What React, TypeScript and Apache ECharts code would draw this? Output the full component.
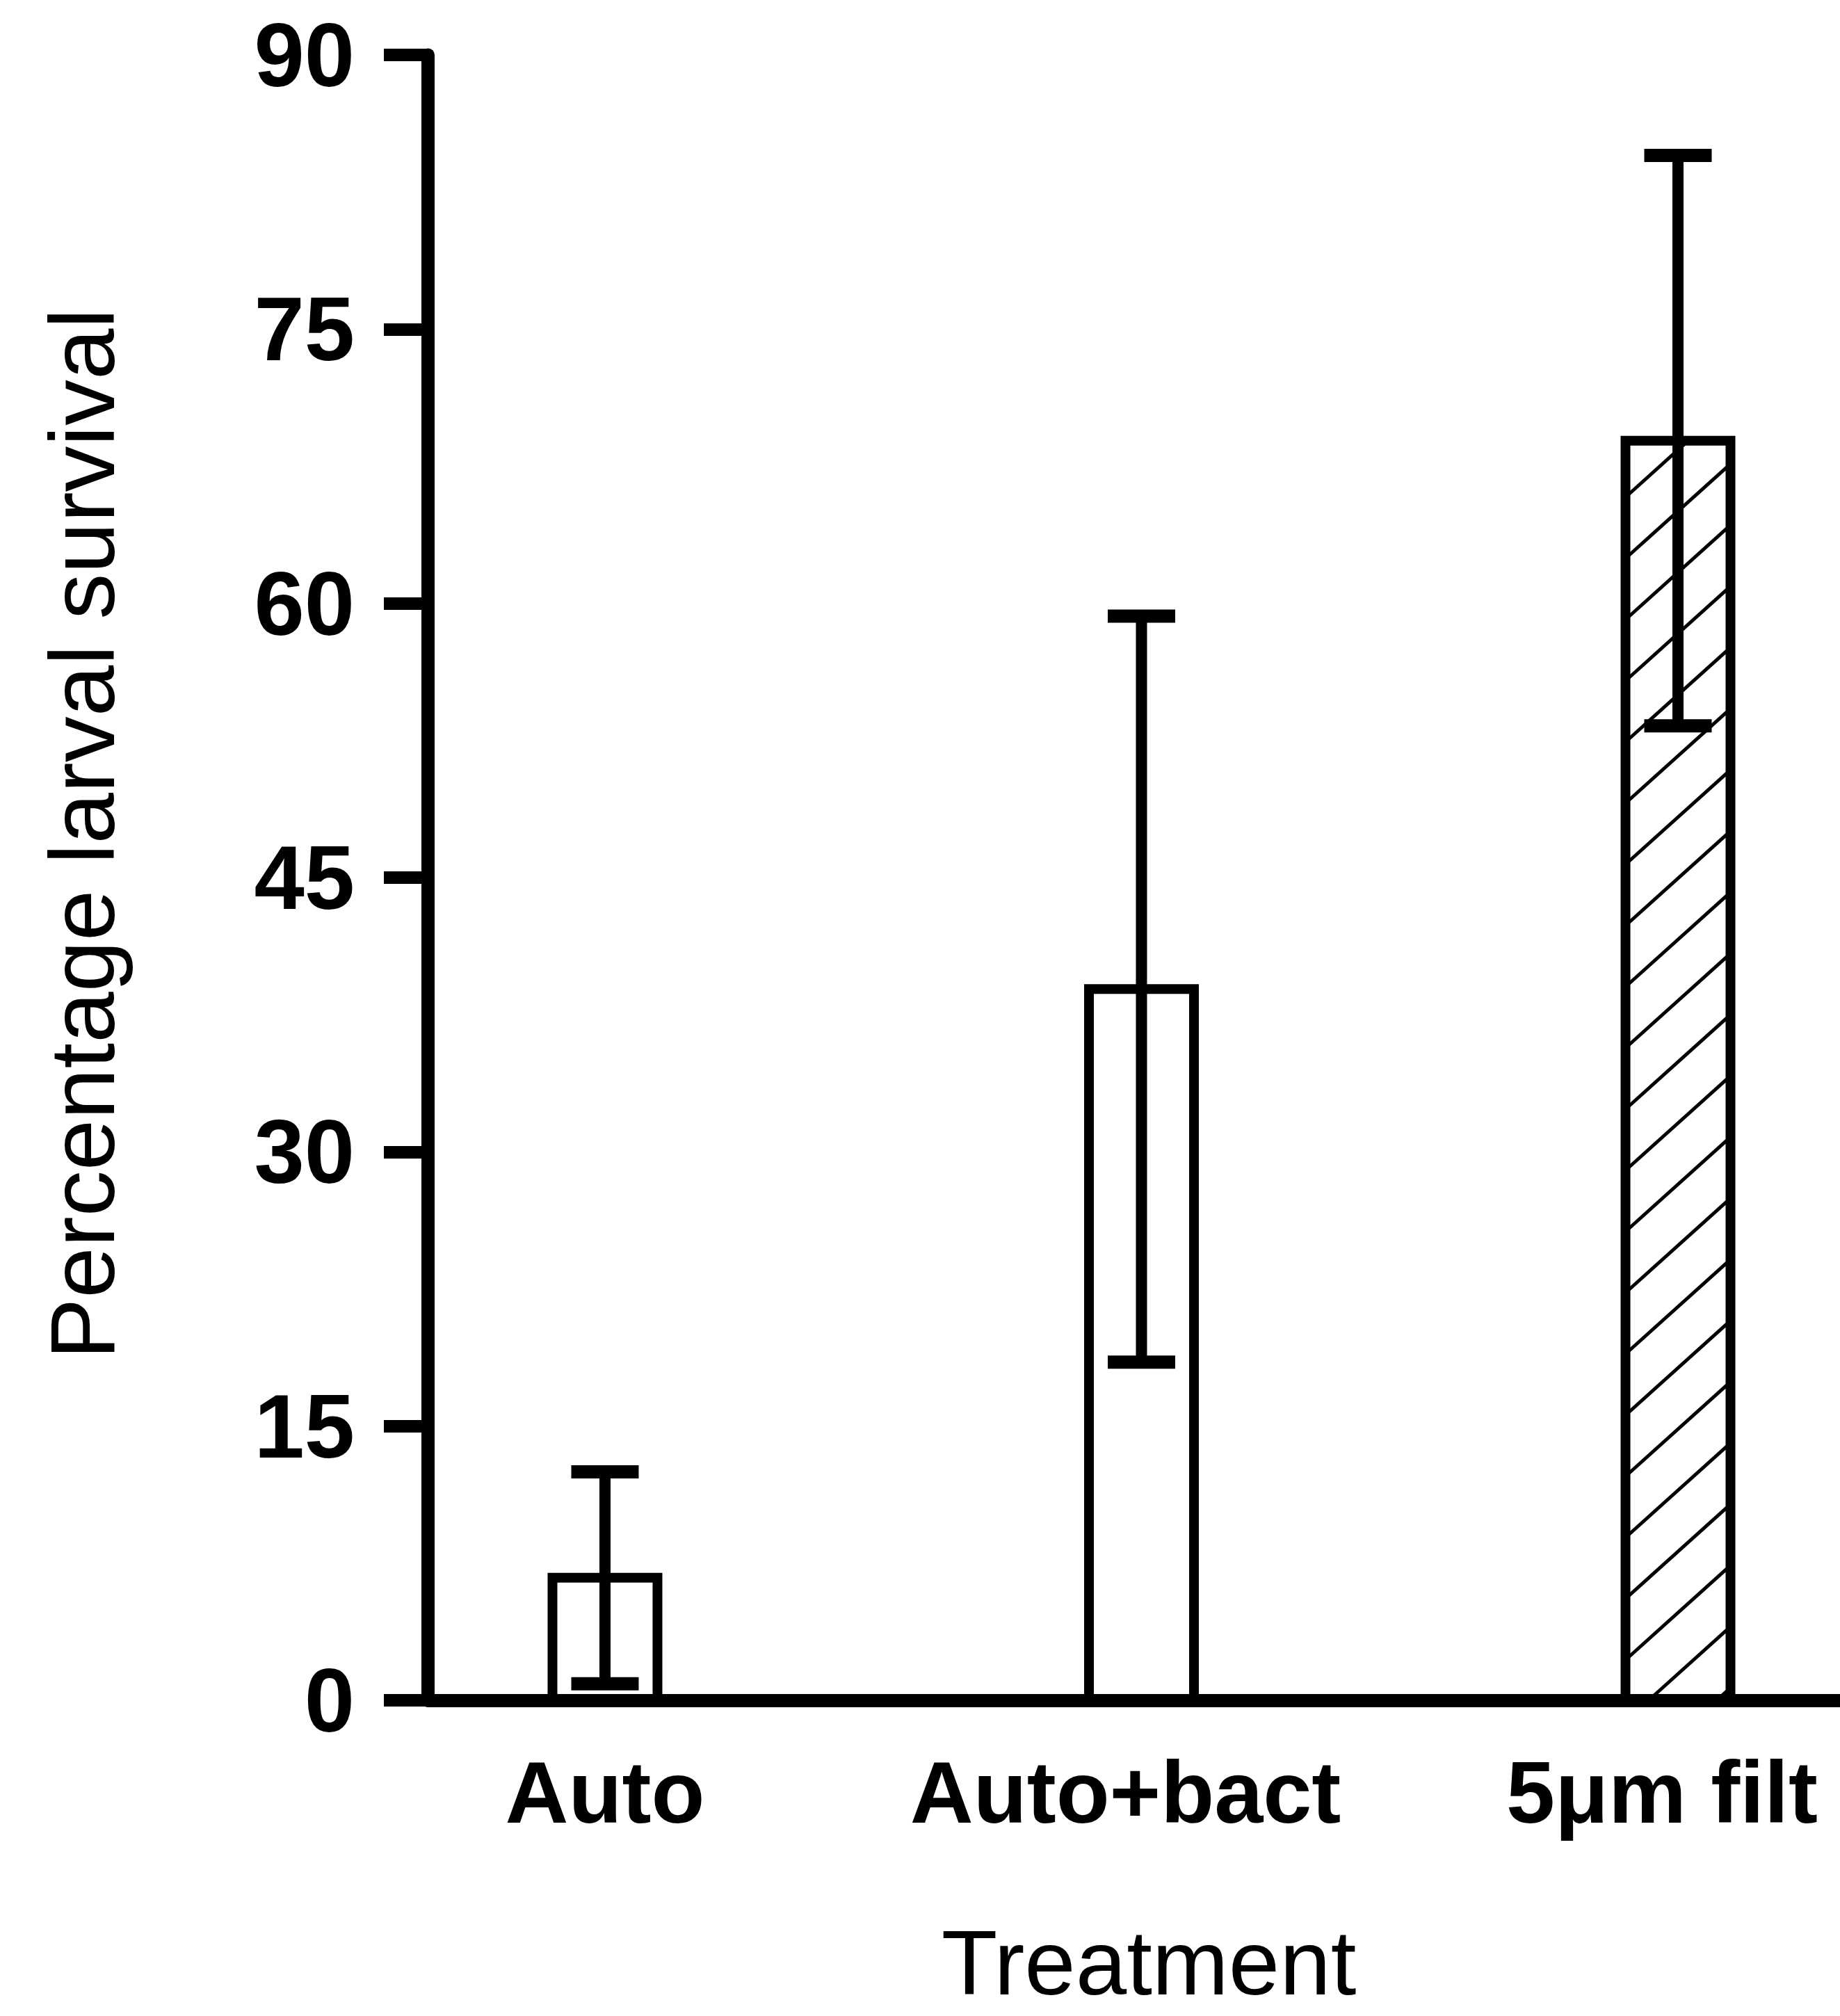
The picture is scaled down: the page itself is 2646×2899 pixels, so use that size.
import React, { useEffect, useRef } from "react";
import * as echarts from "echarts";

// ---- data ----
const CATEGORIES = ["Auto", "Auto+bact", "5μm filt"];
const POSITIONS = [1, 2, 3];
const MEANS = [6.7, 38.9, 68.9];
const ERRORS = [5.8, 20.4, 15.6];
const HATCHED = [0, 0, 1];
const Y_MIN = 0;
const Y_MAX = 90;
const Y_STEP = 15;
const Y_TITLE = "Percentage larval survival";
const X_TITLE = "Treatment";

// ---- style ----
const W = 2646;
const H = 2899;
const FONT = '"Liberation Sans", Arial, Helvetica, sans-serif';
const X_MIN = 0.6695;
const X_MAX = 3.302;
const BAR_W = 0.1957; // in x units
const CAP_W = 0.1257; // in x units
const HATCH_SLOPE = 0.9;
const HATCH_SPACING = 88;
const HATCH_PHASE = 58;
const LABEL_STYLES = ["c", "s", "s"];

export default function App() {
  const ref = useRef<HTMLDivElement>(null);

  useEffect(() => {
    document.body.style.margin = "0";
    document.body.style.overflow = "hidden";
    if (!ref.current) return;
    const chart = echarts.init(ref.current, null, { renderer: "svg" });

    const barData = POSITIONS.map((p, i) => [p, MEANS[i], HATCHED[i]]);
    const errData = POSITIONS.map((p, i) => [p, MEANS[i] - ERRORS[i], MEANS[i] + ERRORS[i]]);

    const labelFont = {
      fontFamily: FONT,
      fontWeight: "bold",
      fontSize: 126,
      color: "#000",
    };

    const option: any = {
      animation: false,
      backgroundColor: "#ffffff",
      grid: { left: 615, top: 79, bottom: H - 2445, right: 0, containLabel: false },
      xAxis: {
        type: "value",
        min: X_MIN,
        max: X_MAX,
        z: 10,
        axisLine: { show: true, onZero: false, lineStyle: { color: "#000", width: 19 } },
        axisTick: { show: false },
        splitLine: { show: false },
        axisLabel: {
          customValues: POSITIONS,
          formatter: (v: number) => {
            const idx = POSITIONS.indexOf(Math.round(v));
            return idx >= 0 ? "{" + LABEL_STYLES[idx] + "|" + CATEGORIES[idx] + "}" : "";
          },
          ...labelFont,
          margin: 132,
          verticalAlign: "middle",
          rich: {
            c: { ...labelFont },
            s: { ...labelFont, padding: [0, 46, 0, 0] },
          },
        },
      },
      yAxis: {
        type: "value",
        min: Y_MIN,
        max: Y_MAX,
        interval: Y_STEP,
        z: 10,
        axisLine: { show: true, onZero: false, lineStyle: { color: "#000", width: 19 } },
        axisTick: { show: true, length: 63, lineStyle: { color: "#000", width: 18 } },
        splitLine: { show: false },
        axisLabel: {
          fontFamily: FONT,
          fontWeight: "bold",
          fontSize: 130,
          color: "#000",
          margin: 105,
        },
      },
      graphic: [
        {
          type: "text",
          x: 118,
          y: 1199,
          rotation: Math.PI / 2,
          style: {
            text: Y_TITLE,
            fontFamily: FONT,
            fontSize: 132,
            fill: "#000",
            align: "center",
            verticalAlign: "middle",
          },
        },
        {
          type: "text",
          x: 1652,
          y: 2822,
          style: {
            text: X_TITLE,
            fontFamily: FONT,
            fontSize: 132,
            fill: "#000",
            align: "center",
            verticalAlign: "middle",
          },
        },
      ],
      series: [
        {
          type: "custom",
          name: "bars",
          data: barData,
          encode: { x: 0, y: 1 },
          z: 2,
          renderItem: (params: any, api: any) => {
            const x = api.value(0);
            const v = api.value(1);
            const hatched = api.value(2);
            const bl = api.coord([x - BAR_W / 2, 0]);
            const tr = api.coord([x + BAR_W / 2, v]);
            const L = bl[0];
            const B = bl[1];
            const R = tr[0];
            const T = tr[1];
            const children: any[] = [
              {
                type: "rect",
                shape: { x: L, y: T, width: R - L, height: B - T },
                style: { fill: "#fff", stroke: null },
              },
            ];
            if (hatched) {
              const k = HATCH_SLOPE;
              let start = B - HATCH_PHASE;
              while (start < B + k * (R - L)) start += HATCH_SPACING;
              for (let yl = start; yl > T; yl -= HATCH_SPACING) {
                const xs = Math.max(L, L + (yl - B) / k);
                const xe = Math.min(R, L + (yl - T) / k);
                if (xe > xs) {
                  children.push({
                    type: "line",
                    shape: {
                      x1: xs,
                      y1: yl - k * (xs - L),
                      x2: xe,
                      y2: yl - k * (xe - L),
                    },
                    style: { stroke: "#000", lineWidth: 5 },
                  });
                }
              }
            }
            children.push({
              type: "rect",
              shape: { x: L, y: T, width: R - L, height: B - T },
              style: { fill: "none", stroke: "#000", lineWidth: 14 },
            });
            return { type: "group", children };
          },
        },
        {
          type: "custom",
          name: "error",
          data: errData,
          encode: { x: 0, y: [1, 2] },
          z: 3,
          renderItem: (params: any, api: any) => {
            const x = api.value(0);
            const lo = api.value(1);
            const hi = api.value(2);
            const pLo = api.coord([x, lo]);
            const pHi = api.coord([x, hi]);
            const cL = api.coord([x - CAP_W / 2, lo])[0];
            const cR = api.coord([x + CAP_W / 2, lo])[0];
            return {
              type: "group",
              children: [
                {
                  type: "line",
                  shape: { x1: pLo[0], y1: pLo[1], x2: pHi[0], y2: pHi[1] },
                  style: { stroke: "#000", lineWidth: 16 },
                },
                {
                  type: "line",
                  shape: { x1: cL, y1: pHi[1], x2: cR, y2: pHi[1] },
                  style: { stroke: "#000", lineWidth: 19 },
                },
                {
                  type: "line",
                  shape: { x1: cL, y1: pLo[1], x2: cR, y2: pLo[1] },
                  style: { stroke: "#000", lineWidth: 19 },
                },
              ],
            };
          },
        },
      ],
    };

    chart.setOption(option);
    return () => {
      chart.dispose();
    };
  }, []);

  return <div ref={ref} style={{ width: W, height: H }} />;
}
